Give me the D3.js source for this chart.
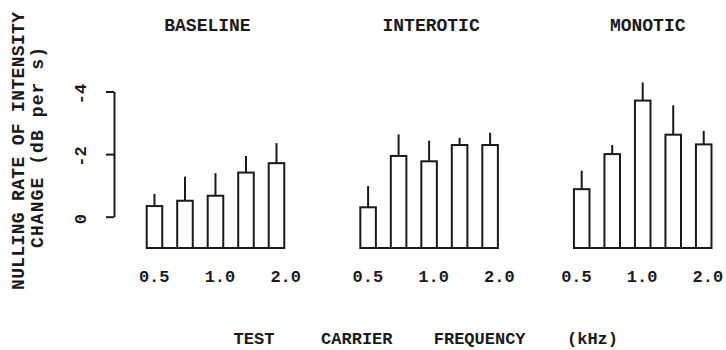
<!DOCTYPE html>
<html>
<head>
<meta charset="utf-8">
<title>Nulling rate by test carrier frequency</title>
<script src="https://d3js.org/d3.v7.min.js"></script>
<style>
  body { margin: 0; background: #fff; }
  text { font-family: "Courier New", "Liberation Mono", monospace; font-weight: bold; fill: #1a1a1a; }
</style>
</head>
<body>
<svg width="726" height="350"></svg>
<script>
// data (negative = faster nulling, plotted upward)
const panels = ["BASELINE", "INTEROTIC", "MONOTIC"];
const freqs = [0.5, 0.7, 1.0, 1.4, 2.0];
const freqLabels = [0.5, 1.0, 2.0];
const baselineMean = [-0.34, -0.51, -0.67, -1.41, -1.71];
const baselineSE   = [0.39, 0.77, 0.72, 0.53, 0.64];
const interoticMean = [-0.30, -1.94, -1.77, -2.29, -2.29];
const interoticSE   = [0.68, 0.69, 0.66, 0.23, 0.39];
const monoticMean = [-0.88, -2.00, -3.71, -2.62, -2.31];
const monoticSE   = [0.59, 0.29, 0.58, 0.94, 0.43];
const yTicks = [0, -2, -4];
const xTitleWords = ["TEST", "CARRIER", "FREQUENCY", "(kHz)"];

const means = [baselineMean, interoticMean, monoticMean];
const ses = [baselineSE, interoticSE, monoticSE];

const svg = d3.select("svg");

// y: bars start at +1, axis drawn from 0 to -4
const y = d3.scaleLinear().domain([1, -4]).range([248, 91.5]);
const yAxisScale = d3.scaleLinear().domain([0, -4]).range([y(0), y(-4)]);

const xPanel = d3.scaleBand().domain(panels).range([146.7, 711.5]).paddingInner(0.356).paddingOuter(0);
const xBar = d3.scaleBand().domain(freqs).range([0, xPanel.bandwidth()]).paddingInner(0.49).paddingOuter(0);
const xLab = d3.scaleLog().base(2).domain([0.5, 2]).range([7.5, 139]);

// y axis
const yAxis = svg.append("g")
    .attr("transform", "translate(114,0)")
    .call(d3.axisLeft(yAxisScale).tickValues(yTicks).tickSize(8).tickSizeOuter(0).tickFormat(d => String(d)));
yAxis.select(".domain").attr("stroke", "#1a1a1a").attr("stroke-width", 2);
yAxis.selectAll(".tick line").attr("stroke", "#1a1a1a").attr("stroke-width", 2);
yAxis.selectAll(".tick text")
    .attr("x", 0).attr("y", 0).attr("dy", null)
    .attr("transform", "translate(-32,2) rotate(-90)")
    .attr("text-anchor", "middle")
    .attr("dominant-baseline", "middle")
    .style("font-size", "17px")
    .style("font-family", null);

// y label (two lines, rotated)
svg.append("text")
    .attr("transform", "translate(24,151) rotate(-90)")
    .attr("text-anchor", "middle")
    .style("font-size", "18px")
    .attr("textLength", 278).attr("lengthAdjust", "spacing")
    .text("NULLING RATE OF INTENSITY");
svg.append("text")
    .attr("transform", "translate(43,147.5) rotate(-90)")
    .attr("text-anchor", "middle")
    .style("font-size", "18px")
    .attr("textLength", 201).attr("lengthAdjust", "spacing")
    .text("CHANGE (dB per s)");

panels.forEach((p, i) => {
    const g = svg.append("g").attr("transform", `translate(${xPanel(p)},0)`);
    const rows = freqs.map((f, j) => ({ f, m: means[i][j], se: ses[i][j] }));

    g.append("text")
        .attr("x", xPanel.bandwidth() / 2 + [-8, 2, 5][i])
        .attr("y", 31)
        .attr("text-anchor", "middle")
        .style("font-size", "18px")
        .text(p);

    g.selectAll("line.err")
        .data(rows)
        .join("line")
        .attr("class", "err")
        .attr("x1", d => xBar(d.f) + xBar.bandwidth() / 2)
        .attr("x2", d => xBar(d.f) + xBar.bandwidth() / 2)
        .attr("y1", d => y(d.m))
        .attr("y2", d => y(d.m - d.se))
        .attr("stroke", "#1a1a1a")
        .attr("stroke-width", 2);

    g.selectAll("rect")
        .data(rows)
        .join("rect")
        .attr("x", d => xBar(d.f))
        .attr("y", d => y(d.m))
        .attr("width", xBar.bandwidth())
        .attr("height", d => y(1) - y(d.m))
        .attr("fill", "#fff")
        .attr("stroke", "#1a1a1a")
        .attr("stroke-width", 2);

    g.append("line")
        .attr("x1", 0).attr("x2", xPanel.bandwidth())
        .attr("y1", y(1)).attr("y2", y(1))
        .attr("stroke", "#1a1a1a")
        .attr("stroke-width", 2);

    const dx = [0, 0, -5][i];
    g.selectAll("text.flab")
        .data(freqLabels)
        .join("text")
        .attr("class", "flab")
        .attr("x", d => xLab(d) + dx)
        .attr("y", 282)
        .attr("text-anchor", "middle")
        .style("font-size", "17px")
        .text(d => d.toFixed(1));
});

// x label, words spread out as in the original
const xTitle = d3.scalePoint().domain(xTitleWords).range([254, 592.5]);
svg.selectAll("text.xtitle")
    .data(xTitleWords)
    .join("text")
    .attr("class", "xtitle")
    .attr("x", (d, i) => xTitle(d) + [0, -10, 0, 0][i])
    .attr("y", 344)
    .attr("text-anchor", "middle")
    .style("font-size", "17px")
    .text(d => d);
</script>
</body>
</html>
